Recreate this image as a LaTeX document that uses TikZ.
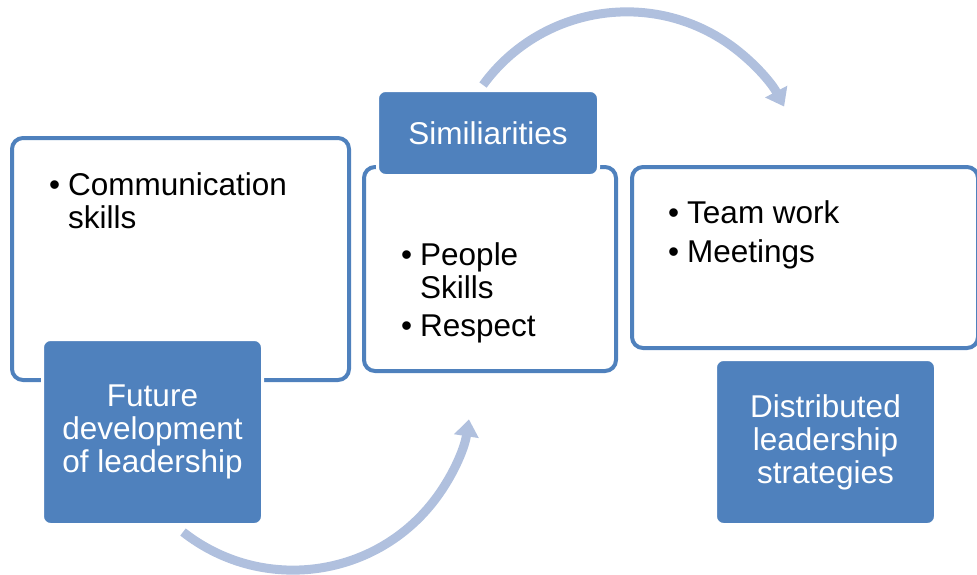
\documentclass[tikz,border=0pt]{standalone}
\usepackage{fontspec}
\setmainfont{Liberation Sans}
\usetikzlibrary{arrows.meta}

\definecolor{accentblue}{HTML}{4F81BD}
\definecolor{arrowblue}{HTML}{B0C0DE}

\tikzset{
    outlinebox/.style={draw=accentblue, line width=4pt, fill=white, rounded corners=11pt},
    labelbox/.style={fill=accentblue, draw=white, line width=3pt, rounded corners=8pt,
        text=white, align=center, font=\fontsize{31.5}{33}\selectfont},
    bullets/.style={anchor=base west, inner sep=0pt,
        font=\fontsize{31.5}{33}\selectfont},
    cyclearrow/.style={draw=arrowblue, line width=9pt,
        -{Triangle[width=24pt,length=17pt]}}
}

\begin{document}
\begin{tikzpicture}[x=1pt, y=-1pt]% [ show background grid ]
    \useasboundingbox (0,0) rectangle (977,574);

    \coordinate (LowStart) at (183,532);
    \coordinate (HighStart) at (483,85);
    \draw[cyclearrow] (LowStart) arc[start angle=128.2, end angle=8.8, radius=178];
    \draw[cyclearrow] (HighStart) arc[start angle=216.1, end angle=332.1, radius=178];

    \node[outlinebox, minimum width=337pt, minimum height=242pt] (FutureBox) at (180.5,259) {};
    \node[outlinebox, minimum width=252pt, minimum height=204pt] (SimilarBox) at (490,269) {};
    \node[outlinebox, minimum width=346pt, minimum height=181pt] (DistribBox) at (805,257.5) {};

    \node[bullets] (FutureText) at (49,195)
        {\begin{tabular}[t]{@{}p{19pt}@{}l@{}} • & Communication\\ & skills\end{tabular}};
    \node[bullets] (SimilarText) at (401,265)
        {\begin{tabular}[t]{@{}p{19pt}@{}l@{}} • & People\\ & Skills\\[5pt] • & Respect\end{tabular}};
    \node[bullets] (DistribText) at (668,223)
        {\begin{tabular}[t]{@{}p{19pt}@{}l@{}} • & Team work\\[6pt] • & Meetings\end{tabular}};

    \node[labelbox, minimum width=220pt, minimum height=185pt] (FutureLabel) at (152.5,432)
        {Future\\development\\of leadership};
    \node[labelbox, minimum width=221pt, minimum height=85pt] (SimilarLabel) at (488,133)
        {Similiarities};
    \node[labelbox, minimum width=220pt, minimum height=165pt] (DistribLabel) at (825.5,442)
        {Distributed\\leadership\\strategies};

\end{tikzpicture}
\end{document}
